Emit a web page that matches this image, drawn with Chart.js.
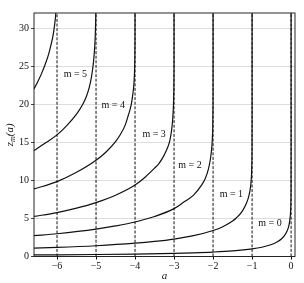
<!DOCTYPE html>
<html>
<head>
<meta charset="utf-8">
<script src="https://cdn.jsdelivr.net/npm/chart.js@4.4.1/dist/chart.umd.min.js"></script>
<style>
  html, body { margin: 0; padding: 0; background: #fff; }
</style>
</head>
<body>
<canvas id="zerosChart" width="304" height="283"></canvas>
<script>
// tick labels and asymptotes
const xTicks = [-6, -5, -4, -3, -2, -1, 0];
const yTicks = [0, 5, 10, 15, 20, 25, 30];
const asymptotes = [-6, -5, -4, -3, -2, -1, 0];

// z_m(a), one pair of arrays per curve
const a0 = [-6.6, -6, -5, -4, -3, -2.5, -2, -1.5, -1, -0.75, -0.5, -0.35, -0.25, -0.17, -0.1, -0.0566, -0.03, -0.015, -0.007, -0.003, -0.001, -0.0001, -0.00001, -1e-7, -1e-12];
const z0 = [0.205, 0.223, 0.264, 0.323, 0.416, 0.486, 0.586, 0.738, 1.0, 1.22, 1.58, 1.94, 2.3, 2.745, 3.38, 4.05, 4.87, 5.74, 6.68, 7.69, 9.0, 11.6, 14.15, 19, 33];

const a1 = [-6.6, -6, -5, -4, -3.5, -3, -2.5, -2, -1.75, -1.5, -1.4, -1.25, -1.15, -1.1, -1.06, -1.03, -1.015, -1.005, -1.001, -1.00001, -1.000000001];
const z1 = [1.093, 1.189, 1.413, 1.746, 1.98, 2.294, 2.735, 3.414, 3.92, 4.67, 5.09, 5.97, 6.93, 7.64, 8.48, 9.6, 10.72, 12.33, 14.5, 20.25, 34];

const a2 = [-6.6, -6, -5, -4.5, -4, -3.5, -3, -2.75, -2.5, -2.3, -2.2, -2.12, -2.07, -2.03, -2.01, -2.001, -2.00001, -2.000000001];
const z2 = [2.742, 2.993, 3.596, 4.02, 4.537, 5.25, 6.29, 7.15, 8.07, 9.34, 10.25, 11.49, 12.75, 14.5, 16.4, 19.86, 26, 36];

const a3 = [-6.6, -6, -5.5, -5, -4.5, -4, -3.75, -3.5, -3.4, -3.3, -3.2, -3.12, -3.08, -3.05, -3.03, -3.015, -3.005, -3.001, -3.0001, -3.00001, -3.000001];
const z3 = [5.259, 5.775, 6.355, 7.086, 8.05, 9.395, 10.39, 11.61, 12.15, 12.9, 13.9, 15.0, 16.0, 17.2, 18.4, 20, 22, 24.5, 28, 31, 34];

const a4 = [-6.6, -6, -5.5, -5, -4.75, -4.5, -4.38, -4.25, -4.17, -4.1, -4.06, -4.03, -4.015, -4.005, -4.001, -4.0001, -4.00001];
const z4 = [8.861, 9.838, 11.06, 12.641, 13.7, 15.1, 16.0, 17.3, 18.6, 19.9, 21.2, 22.6, 24, 26.1, 28.6, 32.2, 35];

const a5 = [-6.6, -6.3, -6, -5.75, -5.5, -5.35, -5.25, -5.17, -5.12, -5.08, -5.05, -5.03, -5.015, -5.006, -5.001];
const z5 = [13.9, 14.9, 15.98, 17.2, 18.7, 19.9, 21.0, 22.3, 23.5, 24.9, 26.4, 27.9, 29.8, 31.8, 34];

const a6 = [-6.6, -6.5, -6.4, -6.3, -6.22, -6.15, -6.1, -6.06, -6.03, -6.01];
const z6 = [21.95, 22.9, 24.0, 25.3, 26.5, 27.9, 29.1, 30.5, 32, 34];

// in-plot labels
const curveLabels = ['m = 0', 'm = 1', 'm = 2', 'm = 3', 'm = 4', 'm = 5'];
const labelA = [-0.54, -1.53, -2.59, -3.51, -4.56, -5.53];
const labelZ = [4.4, 8.2, 12.0, 16.1, 19.9, 23.9];

const serif = "'Liberation Serif', 'DejaVu Serif', serif";
const ink = '#111';

const curves = [[a0, z0], [a1, z1], [a2, z2], [a3, z3], [a4, z4], [a5, z5], [a6, z6]];

const datasets = [];
asymptotes.forEach(v => {
    datasets.push({
        data: [{ x: v, y: 0 }, { x: v, y: 32 }],
        borderColor: ink,
        borderWidth: 1,
        borderDash: [3, 1.6],
        pointRadius: 0,
        clip: 0
    });
});
curves.forEach(([a, z]) => {
    datasets.push({
        data: a.map((v, i) => ({ x: v, y: z[i] })),
        borderColor: ink,
        borderWidth: 1.2,
        pointRadius: 0,
        cubicInterpolationMode: 'monotone',
        clip: 0
    });
});

// frame, axis titles and curve labels
const decorPlugin = {
    id: 'decor',
    afterDatasetsDraw(chart) {
        const { ctx, chartArea: area, scales: { x, y } } = chart;
        ctx.save();
        ctx.strokeStyle = ink;
        ctx.lineWidth = 0.9;
        ctx.strokeRect(area.left, area.top, area.right - area.left, area.bottom - area.top);

        ctx.fillStyle = ink;
        ctx.font = '10px ' + serif;
        ctx.textAlign = 'center';
        ctx.textBaseline = 'middle';
        curveLabels.forEach((t, i) => {
            ctx.fillText(t, x.getPixelForValue(labelA[i]), y.getPixelForValue(labelZ[i]));
        });

        // x title
        ctx.font = 'italic 11px ' + serif;
        ctx.fillText('a', (area.left + area.right) / 2, 276);

        // y title with subscript
        ctx.translate(10, (area.top + area.bottom) / 2);
        ctx.rotate(-Math.PI / 2);
        ctx.textAlign = 'left';
        const big = 'italic 11px ' + serif, small = 'italic 8px ' + serif;
        ctx.font = big; const wz = ctx.measureText('z').width;
        ctx.font = small; const wm = ctx.measureText('m').width;
        ctx.font = big; const wr = ctx.measureText('(a)').width;
        let px = -(wz + wm + wr) / 2;
        ctx.font = big; ctx.fillText('z', px, 0); px += wz;
        ctx.font = small; ctx.fillText('m', px, 3); px += wm;
        ctx.font = big; ctx.fillText('(a)', px, 0);
        ctx.restore();
    }
};

const tickFmt = v => (v < 0 ? '\u2212' + Math.abs(v) : String(v));

new Chart(document.getElementById('zerosChart'), {
    type: 'line',
    data: { datasets },
    options: {
        responsive: false,
        animation: false,
        events: [],
        layout: { padding: { left: 0, right: 9, top: 13, bottom: 0 } },
        plugins: { legend: { display: false }, tooltip: { enabled: false } },
        scales: {
            x: {
                type: 'linear',
                min: -6.59,
                max: 0.1,
                afterBuildTicks: s => { s.ticks = xTicks.map(v => ({ value: v })); },
                afterFit: s => { s.height = 26.5; },
                border: { display: false },
                grid: { drawOnChartArea: false, drawTicks: true, tickLength: 3, tickColor: ink },
                ticks: { color: ink, font: { family: serif, size: 10 }, padding: 1, maxRotation: 0, callback: tickFmt }
            },
            y: {
                type: 'linear',
                min: 0,
                max: 32,
                afterBuildTicks: s => { s.ticks = yTicks.map(v => ({ value: v })); },
                afterFit: s => { s.width = 34; },
                border: { display: false },
                grid: { color: '#d4d4d4', lineWidth: 0.8, tickLength: 3, tickColor: ink },
                ticks: { color: ink, font: { family: serif, size: 10 }, padding: 2, callback: tickFmt }
            }
        }
    },
    plugins: [decorPlugin]
});
</script>
</body>
</html>
